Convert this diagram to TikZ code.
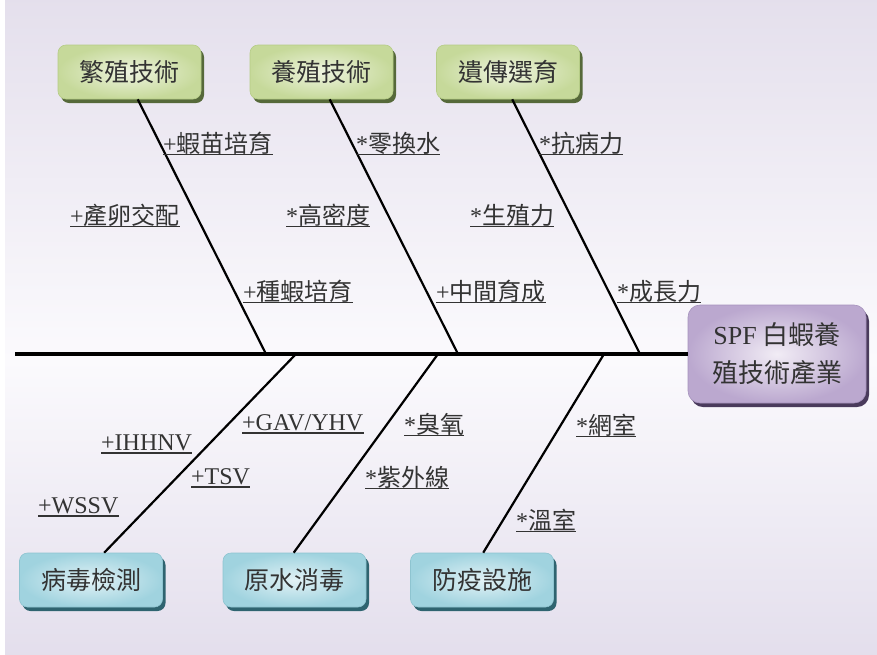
\documentclass[tikz,border=0pt]{standalone}
\usepackage{fontspec}
\setmainfont{Liberation Serif}
\newfontfamily\cjk{Noto Sans CJK TC}
\usetikzlibrary{shadows,calc}
\definecolor{bgtop}{HTML}{E4DFEC}
\definecolor{bgmid}{HTML}{FBFAFD}
\definecolor{bgbot}{HTML}{E3DEEC}
\definecolor{gin}{HTML}{EEF4DF}
\definecolor{gout}{HTML}{C6D99A}
\definecolor{gdraw}{HTML}{B5CC86}
\definecolor{gshadow}{HTML}{56693A}
\definecolor{cin}{HTML}{E2F2F6}
\definecolor{cout}{HTML}{A0D3DF}
\definecolor{cdraw}{HTML}{8EC4D0}
\definecolor{cshadow}{HTML}{2F6470}
\definecolor{pin}{HTML}{F1ECF5}
\definecolor{pout}{HTML}{BBA8CF}
\definecolor{pdraw}{HTML}{A592BC}
\definecolor{pshadow}{HTML}{4A3B5C}
\definecolor{txt}{HTML}{333333}
\tikzset{
  boxbase/.style={rounded corners=8pt, minimum width=143pt, minimum height=54pt,
    line width=0.6pt, font=\fontsize{25}{30}\selectfont\cjk, text=txt},
  topbox/.style={boxbase, inner color=gin, outer color=gout, draw=gdraw,
    drop shadow={shadow xshift=3pt, shadow yshift=-4pt, fill=gshadow, opacity=1}},
  botbox/.style={boxbase, inner color=cin, outer color=cout, draw=cdraw,
    drop shadow={shadow xshift=3pt, shadow yshift=-4pt, fill=cshadow, opacity=1}},
  mainbox/.style={rounded corners=12pt, minimum width=178pt, minimum height=98pt,
    line width=0.6pt, inner color=pin, outer color=pout, draw=pdraw, align=center,
    font=\fontsize{26}{38}\selectfont\cjk, text=txt,
    drop shadow={shadow xshift=3pt, shadow yshift=-4pt, fill=pshadow, opacity=1}},
  lab/.style={anchor=base west, inner sep=0pt, font=\fontsize{24}{28}\selectfont, text=txt},
  ul/.style={line width=1.3pt, draw=txt},
  spine/.style={line width=3.4pt, draw=black},
  bone/.style={line width=2.2pt, draw=black}
}
\begin{document}
\begin{tikzpicture}[x=1pt,y=-1pt]
\useasboundingbox (0,0) rectangle (877,654);
\path[top color=bgtop, bottom color=bgmid] (-5,-5) rectangle (882,360);
\path[top color=bgmid, bottom color=bgbot] (-5,360) rectangle (882,660);
\fill[white] (-5,-5) rectangle (5,660);

% boxes
\node[topbox] (b1) at (129.5,72) {繁殖技術};
\node[topbox] (b2) at (321.5,72) {養殖技術};
\node[topbox] (b3) at (508,72) {遺傳選育};
\node[botbox] (d1) at (91,580) {病毒檢測};
\node[botbox] (d2) at (294.5,580) {原水消毒};
\node[botbox] (d3) at (482,580) {防疫設施};
\node[mainbox] (m) at (777,354) {{\rmfamily SPF} 白蝦養\\殖技術產業};

% spine points
\coordinate (tail) at (15,354);
\coordinate (s1) at (266,354);
\coordinate (s2) at (458,354);
\coordinate (s3) at (640,354);
\coordinate (s4) at (296,354);
\coordinate (s5) at (438,354);
\coordinate (s6) at (604,354);

\draw[spine] (tail) -- (m.west);
\draw[bone] ([xshift=80pt]b1.south west) -- (s1);
\draw[bone] ([xshift=80pt]b2.south west) -- (s2);
\draw[bone] ([xshift=76pt]b3.south west) -- (s3);
\draw[bone] ([xshift=85pt]d1.north west) -- (s4);
\draw[bone] ([xshift=71pt]d2.north west) -- (s5);
\draw[bone] ([xshift=73pt]d3.north west) -- (s6);

% labels
\node[lab] (l1) at (163,152) {+\cjk 蝦苗培育};
\node[lab] (l2) at (70,224) {+\cjk 產卵交配};
\node[lab] (l3) at (243,300) {+\cjk 種蝦培育};
\node[lab] (l4) at (356,152) {*\cjk 零換水};
\node[lab] (l5) at (286,224) {*\cjk 高密度};
\node[lab] (l6) at (436,300) {+\cjk 中間育成};
\node[lab] (l7) at (539,152) {*\cjk 抗病力};
\node[lab] (l8) at (470,224) {*\cjk 生殖力};
\node[lab] (l9) at (617,300) {*\cjk 成長力};
\node[lab] (l10) at (242,430.5) {+GAV/YHV};
\node[lab] (l11) at (101,450.5) {+IHHNV};
\node[lab] (l12) at (191,484.5) {+TSV};
\node[lab] (l13) at (38,513.5) {+WSSV};
\node[lab] (l14) at (404,433) {*\cjk 臭氧};
\node[lab] (l15) at (365,486) {*\cjk 紫外線};
\node[lab] (l16) at (576,434) {*\cjk 網室};
\node[lab] (l17) at (516,529) {*\cjk 溫室};

\foreach \n in {l1,l2,l3,l4,l5,l6,l7,l8,l9,l10,l11,l12,l13,l14,l15,l16,l17}
  \draw[ul] ([yshift=-2.5pt]\n.base west) -- ([yshift=-2.5pt]\n.base east);
\end{tikzpicture}
\end{document}
